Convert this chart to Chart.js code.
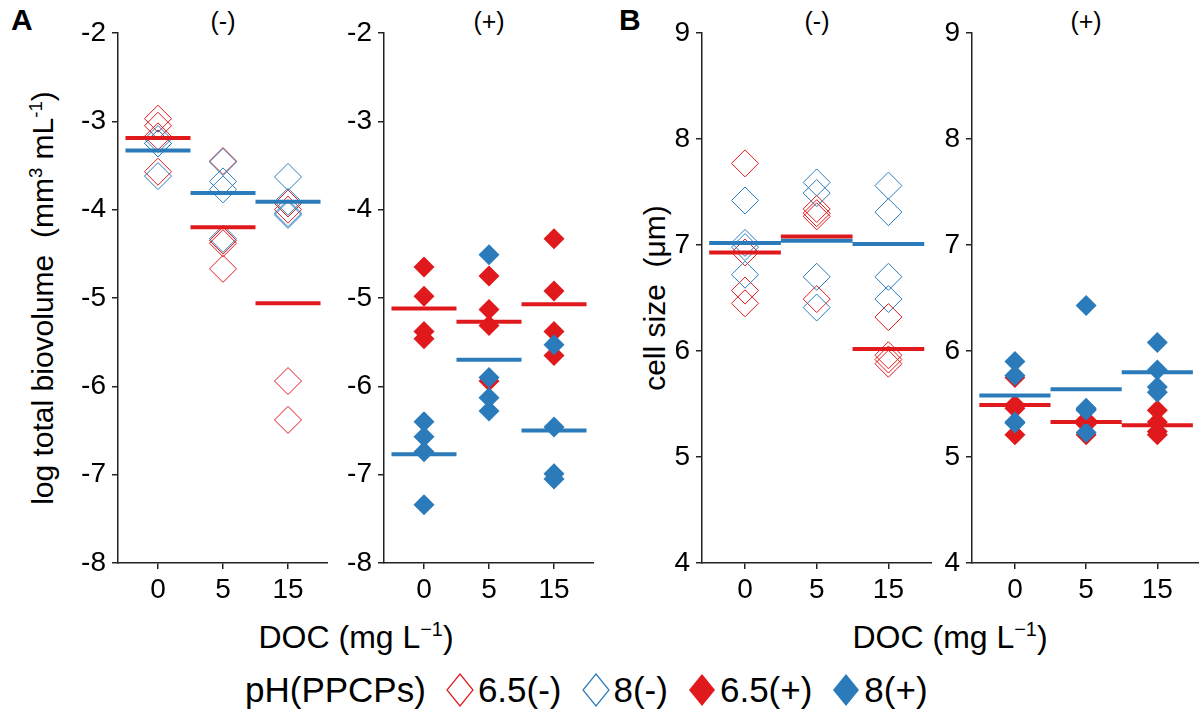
<!DOCTYPE html>
<html>
<head>
<meta charset="utf-8">
<script src="https://cdn.jsdelivr.net/npm/chart.js@4.4.1/dist/chart.umd.min.js"></script>
<style>
  body { margin: 0; background: #fff; font-family: "Liberation Sans", Arial, sans-serif; color: #000; }
  #page { position: relative; width: 1199px; height: 717px; overflow: hidden; }
  .panel { position: absolute; top: 0; }
  .txt { position: absolute; white-space: nowrap; transform: translate(-50%, -50%); }
  .ylab { position: absolute; white-space: nowrap; transform: translate(-50%, -50%) rotate(-90deg); font-size: 30px; }
  .tag { position: absolute; font-weight: bold; font-size: 30px; }
  sup { font-size: 0.62em; line-height: 0; }
  #legend { position: absolute; left: 245px; top: 690px; transform: translateY(-50%); display: flex; align-items: center; font-size: 35px; }
  #legend svg { margin: 0 4px 0 20px; }
</style>
</head>
<body>
<div id="page">
  <div class="tag" style="left:11px; top:3px;">A</div>
  <div class="tag" style="left:619px; top:3px;">B</div>
  <div class="txt" style="left:223px; top:21px; font-size:25px;">(-)</div>
  <div class="txt" style="left:489px; top:21px; font-size:25px;">(+)</div>
  <div class="txt" style="left:817px; top:21px; font-size:25px;">(-)</div>
  <div class="txt" style="left:1086px; top:21px; font-size:25px;">(+)</div>
  <div class="ylab" style="left:43px; top:298px;">log total biovolume &nbsp;(mm<sup>3</sup> mL<sup>-1</sup>)</div>
  <div class="ylab" style="left:655px; top:298px;">cell size &nbsp;(&mu;m)</div>
  <div class="txt" style="left:356px; top:637px; font-size:32px;">DOC (mg L<sup>&minus;1</sup>)</div>
  <div class="txt" style="left:950px; top:637px; font-size:32px;">DOC (mg L<sup>&minus;1</sup>)</div>

  <canvas id="panelAminus" class="panel"></canvas>
  <canvas id="panelAplus" class="panel"></canvas>
  <canvas id="panelBminus" class="panel"></canvas>
  <canvas id="panelBplus" class="panel"></canvas>

  <div id="legend">
    <span>pH(PPCPs)</span>
    <svg width="28" height="34"><polygon points="14,1 27,17 14,33 1,17" fill="none" stroke="#e0191c" stroke-width="1.2"/></svg><span>6.5(-)</span>
    <svg width="28" height="34"><polygon points="14,1 27,17 14,33 1,17" fill="none" stroke="#2b7bba" stroke-width="1.2"/></svg><span>8(-)</span>
    <svg width="28" height="34"><polygon points="14,1 27,17 14,33 1,17" fill="#e0191c"/></svg><span>6.5(+)</span>
    <svg width="28" height="34"><polygon points="14,1 27,17 14,33 1,17" fill="#2b7bba"/></svg><span>8(+)</span>
  </div>
</div>

<script>
// DOC levels (x categories)
const docLabels = ['0', '5', '15'];

// colours for the two pH levels
const RED = '#e0191c';
const BLUE = '#2b7bba';

// ---- A: log total biovolume, PPCPs (-) ----
const bioMinusPh65 = [[-2.97, -3.05, -3.57, -3.17], [-3.45, -4.35, -4.38, -4.67], [-3.93, -4.0, -5.94, -6.38]];
const bioMinusPh8  = [[-3.2, -3.25, -3.62, -3.25], [-3.46, -3.68, -3.77, -4.33], [-3.63, -3.91, -4.04, -4.06]];
const bioMinusMean65 = [-3.19, -4.2, -5.06];
const bioMinusMean8  = [-3.33, -3.81, -3.91];

// ---- A: log total biovolume, PPCPs (+) ----
const bioPlusPh65 = [[-4.65, -4.98, -5.38, -5.46], [-4.75, -5.13, -5.31, -5.94], [-4.33, -4.92, -5.38, -5.65]];
const bioPlusPh8  = [[-6.4, -6.57, -6.74, -7.34], [-4.51, -5.9, -6.13, -6.28], [-5.53, -6.46, -6.99, -7.05]];
const bioPlusMean65 = [-5.12, -5.27, -5.07];
const bioPlusMean8  = [-6.77, -5.7, -6.5];

// ---- B: cell size, PPCPs (-) ----
const cellMinusPh65 = [[7.77, 6.93, 6.57, 6.45], [7.34, 7.3, 7.27, 6.49], [6.32, 5.96, 5.92, 5.88]];
const cellMinusPh8  = [[7.42, 7.02, 6.98, 6.72], [7.59, 7.49, 6.7, 6.41], [7.56, 7.31, 6.7, 6.49]];
const cellMinusMean65 = [6.93, 7.08, 6.02];
const cellMinusMean8  = [7.02, 7.04, 7.01];

// ---- B: cell size, PPCPs (+) ----
const cellPlusPh65 = [[5.75, 5.49, 5.46, 5.21], [5.45, 5.35, 5.31, 5.21], [5.44, 5.33, 5.24, 5.21]];
const cellPlusPh8  = [[5.9, 5.77, 5.33, 5.32], [6.43, 5.46, 5.44, 5.23], [6.08, 5.82, 5.66, 5.61]];
const cellPlusMean65 = [5.49, 5.33, 5.3];
const cellPlusMean8  = [5.58, 5.64, 5.8];

// axis ranges
const bioRange = [-8, -2];
const cellRange = [4, 9];

// turn [[cat0 values], [cat1 values], ...] into scatter points
function toPoints(groups) {
    const pts = [];
    groups.forEach((vals, i) => vals.forEach(v => pts.push({ x: i, y: v })));
    return pts;
}

// mean bars span the full width of each DOC category
function meanSegments(means) {
    const pts = [];
    means.forEach((m, i) => {
        pts.push({ x: i - 0.5, y: m });
        pts.push({ x: i + 0.5, y: m });
        pts.push({ x: i + 0.5, y: null });
    });
    return pts;
}

function pointSet(groups, color, filled) {
    return {
        type: 'scatter',
        data: toPoints(groups),
        pointStyle: 'rectRot',
        pointRadius: filled ? 10.5 : 13.5,
        borderWidth: filled ? 0 : 1,
        borderColor: color,
        backgroundColor: filled ? color : 'rgba(0,0,0,0)',
        order: color === BLUE ? 2 : 3
    };
}

function meanSet(means, color) {
    return {
        type: 'line',
        data: meanSegments(means),
        borderColor: color,
        borderWidth: 4,
        pointRadius: 0,
        spanGaps: false,
        order: color === RED ? 0 : 1
    };
}

function makePanel(id, axisX, width, xMin, xMax, yRange, sets) {
    const canvas = document.getElementById(id);
    const leftRoom = 62;
    canvas.style.left = (axisX - leftRoom) + 'px';
    canvas.style.width = (width + leftRoom) + 'px';
    canvas.style.height = '610px';
    canvas.width = width + leftRoom;
    canvas.height = 610;

    return new Chart(canvas, {
        type: 'scatter',
        data: { datasets: sets },
        options: {
            responsive: false,
            animation: false,
            events: [],
            layout: { autoPadding: false, padding: { top: 33, right: 0, bottom: 0, left: 0 } },
            plugins: { legend: { display: false }, tooltip: { enabled: false } },
            scales: {
                x: {
                    type: 'linear',
                    min: xMin,
                    max: xMax,
                    afterBuildTicks: (scale) => { scale.ticks = docLabels.map((_, i) => ({ value: i })); },
                    afterFit: (scale) => { scale.height = 47; },
                    ticks: {
                        callback: (v) => docLabels[v],
                        font: { size: 28, family: 'Liberation Sans' },
                        color: '#000',
                        padding: 4,
                        maxRotation: 0
                    },
                    grid: { drawOnChartArea: false, drawTicks: true, tickLength: 6, color: '#222', lineWidth: 1.5 },
                    border: { display: true, color: '#222', width: 1.5 }
                },
                y: {
                    min: yRange[0],
                    max: yRange[1],
                    afterFit: (scale) => { scale.width = leftRoom; },
                    ticks: {
                        stepSize: 1,
                        font: { size: 28, family: 'Liberation Sans' },
                        color: '#000',
                        padding: 6
                    },
                    grid: { drawOnChartArea: false, drawTicks: true, tickLength: 6, color: '#222', lineWidth: 1.5 },
                    border: { display: true, color: '#222', width: 1.5 }
                }
            }
        }
    });
}

makePanel('panelAminus', 118, 210, -0.615, 2.615, bioRange, [
    meanSet(bioMinusMean65, RED), meanSet(bioMinusMean8, BLUE),
    pointSet(bioMinusPh8, BLUE, false), pointSet(bioMinusPh65, RED, false)
]);
makePanel('panelAplus', 384, 210, -0.615, 2.615, bioRange, [
    meanSet(bioPlusMean65, RED), meanSet(bioPlusMean8, BLUE),
    pointSet(bioPlusPh8, BLUE, true), pointSet(bioPlusPh65, RED, true)
]);
makePanel('panelBminus', 702, 230, -0.6, 2.608, cellRange, [
    meanSet(cellMinusMean65, RED), meanSet(cellMinusMean8, BLUE),
    pointSet(cellMinusPh8, BLUE, false), pointSet(cellMinusPh65, RED, false)
]);
makePanel('panelBplus', 972, 228, -0.603, 2.6, cellRange, [
    meanSet(cellPlusMean65, RED), meanSet(cellPlusMean8, BLUE),
    pointSet(cellPlusPh8, BLUE, true), pointSet(cellPlusPh65, RED, true)
]);
</script>
</body>
</html>
